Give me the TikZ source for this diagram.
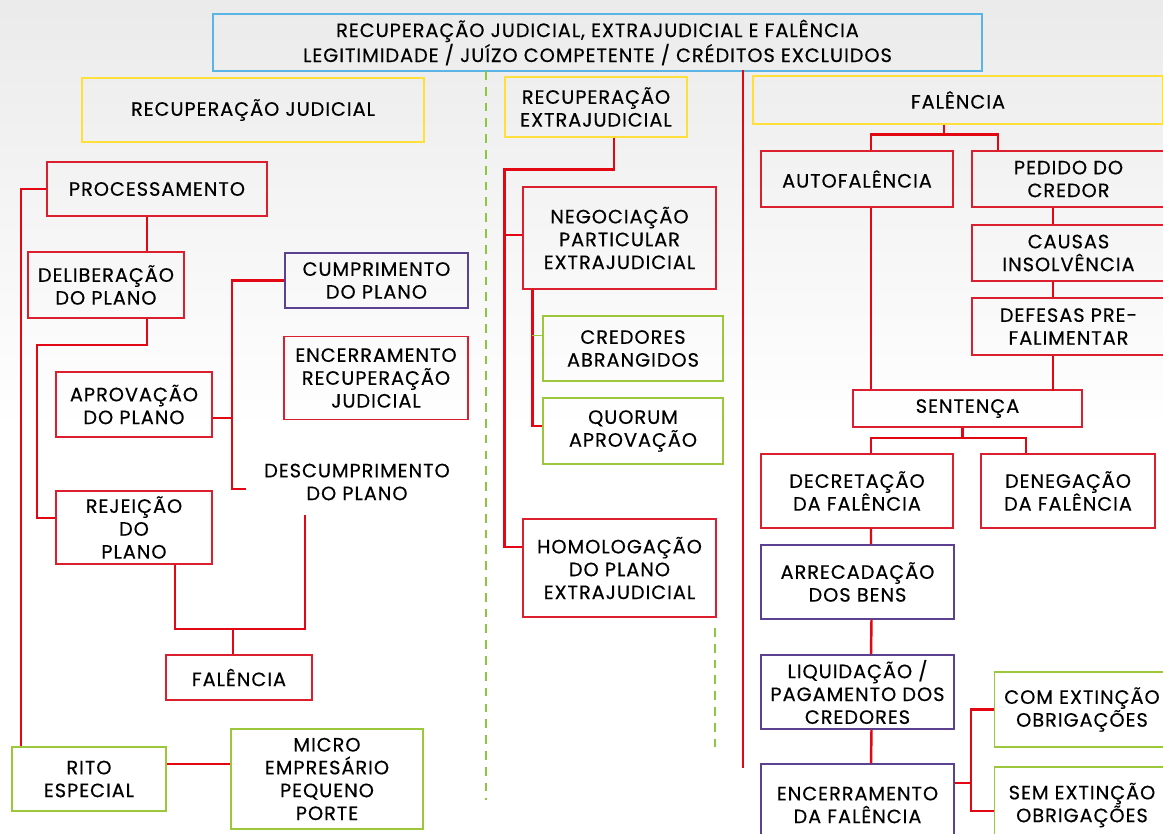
\documentclass[tikz,border=0pt]{standalone}
\usepackage{fontspec}
\setmainfont{Poppins}[LetterSpace=5, FakeBold=0.4]
\usepackage{tikz}
\usetikzlibrary{positioning, calc}
\definecolor{linkred}{HTML}{E30613}
\definecolor{boxred}{HTML}{DC1F2E}
\definecolor{boxpurple}{HTML}{5B4190}
\definecolor{boxgreen}{HTML}{9CC73B}
\definecolor{boxyellow}{HTML}{FFE03A}
\definecolor{boxblue}{HTML}{5AB4E5}
\definecolor{sepgreen}{HTML}{8DC63F}
\newcommand{\boxfont}{\fontsize{11}{13}\selectfont}
\tikzset{
  rbox/.style = {rectangle, draw=boxred, line width=0.85pt, align=center,
                 font=\boxfont, inner sep=2pt},
  pbox/.style = {rbox, draw=boxpurple},
  gbox/.style = {rbox, draw=boxgreen},
  ybox/.style = {rbox, draw=boxyellow, line width=0.75pt},
  tbox/.style = {rbox, draw=boxblue, line width=0.75pt},
  plain/.style = {rectangle, align=center, font=\boxfont, inner sep=2pt},
  link/.style = {draw=linkred, line width=1.4pt},
  twig/.style = {draw=boxgreen, line width=0.6pt},
  sep/.style  = {draw=sepgreen, line width=0.7pt, dash pattern=on 5pt off 4pt},
}
\begin{document}
\begin{tikzpicture}[x=0.02cm, y=-0.02cm]
  \useasboundingbox (0,0) rectangle (1163,834);
  \clip (0,0) rectangle (1163,834);
  \shade[top color=gray!16, bottom color=white] (0,0) rectangle (1163,430);

  % headers
  \node[tbox, minimum width=15.38cm, minimum height=1.14cm] (title) at (597.5,42.5)
       {RECUPERAÇÃO JUDICIAL, EXTRAJUDICIAL E FALÊNCIA\\LEGITIMIDADE / JUÍZO COMPETENTE / CRÉDITOS EXCLUIDOS};
  \node[ybox, minimum width=6.84cm, minimum height=1.28cm] (rj) at (253,110) {RECUPERAÇÃO JUDICIAL};
  \node[ybox, minimum width=3.64cm, minimum height=1.2cm] (re) at (596,107) {RECUPERAÇÃO\\EXTRAJUDICIAL};
  \node[ybox, minimum width=8.2cm, minimum height=0.96cm] (fal) at (958,100) {FALÊNCIA};

  % column separators
  \draw[sep] (486,71) -- (486,800);
  \draw[sep] (715,628) -- (715,752);
  \draw[link] (743,70) -- (743,768);

  % recuperacao judicial
  \node[rbox, minimum width=4.4cm, minimum height=1.08cm] (proc) at (157,189) {PROCESSAMENTO};
  \node[rbox, minimum width=3.12cm, minimum height=1.32cm] (delib) at (106,285) {DELIBERAÇÃO\\DO PLANO};
  \node[pbox, minimum width=3.66cm, minimum height=1.1cm] (cumpr) at (376.5,280.5) {CUMPRIMENTO\\DO PLANO};
  \node[rbox, minimum width=3.68cm, minimum height=1.66cm] (encrj) at (376,378) {ENCERRAMENTO\\RECUPERAÇÃO\\JUDICIAL};
  \node[rbox, minimum width=3.12cm, minimum height=1.3cm] (aprov) at (134,404.5) {APROVAÇÃO\\DO PLANO};
  \node[plain] (desc) at (357,482) {DESCUMPRIMENTO\\DO PLANO};
  \node[rbox, minimum width=3.12cm, minimum height=1.46cm] (rej) at (134,527.5) {REJEIÇÃO\\DO\\PLANO};
  \node[rbox, minimum width=2.92cm, minimum height=0.9cm] (fall) at (239,677.5) {FALÊNCIA};
  \node[gbox, minimum width=3.08cm, minimum height=1.28cm] (rito) at (89,779) {RITO\\ESPECIAL};
  \node[gbox, minimum width=3.84cm, minimum height=2.0cm] (micro) at (327,779) {MICRO\\EMPRESÁRIO\\PEQUENO\\PORTE};

  \draw[link] (proc.west) -| ($(rito.north west)+(10,0)$);
  \draw[link] ($(proc.south)+(-10,0)$) -- ($(delib.north)+(41,0)$);
  \draw[link] ($(delib.south)+(41,0)$) -- ++(0,26) -| ($(rej.west)+(-18,-9.5)$) -- ($(rej.west)+(0,-9.5)$);
  \coordinate (trunk) at (232,280.5);
  \draw[link] (cumpr.west) -- (trunk) |- ($(desc.west)+(-14,7)$);
  \draw[link] ($(aprov.east)+(0,13.5)$) -- ($(aprov.east)+(20,13.5)$);
  \coordinate (merge) at (233,629);
  \draw[link] ($(rej.south)+(41,0)$) |- (merge) -| ($(desc.south)+(-52,11)$);
  \draw[link] (merge) -- (merge |- fall.north);
  \draw[link] ($(rito.east)+(0,-15)$) -- ($(micro.west)+(0,-15)$);

  % recuperacao extrajudicial
  \node[rbox, minimum width=3.86cm, minimum height=2.04cm] (nego) at (619.5,238) {NEGOCIAÇÃO\\PARTICULAR\\EXTRAJUDICIAL};
  \node[gbox, minimum width=3.6cm, minimum height=1.3cm] (cred) at (633,348.5) {CREDORES\\ABRANGIDOS};
  \node[gbox, minimum width=3.6cm, minimum height=1.32cm] (quor) at (633,431) {QUORUM\\APROVAÇÃO};
  \node[rbox, minimum width=3.86cm, minimum height=1.96cm] (homo) at (619.5,568) {HOMOLOGAÇÃO\\DO PLANO\\EXTRAJUDICIAL};

  \draw[link] ($(re.south)+(18,0)$) -- ++(0,32) -| ($(homo.west)+(-18,-21)$) -- ($(homo.west)+(0,-21)$);
  \draw[link] ($(nego.west)+(-18,-3)$) -- ($(nego.west)+(0,-3)$);
  \draw[link] ($(nego.south west)+(10,0)$) |- ($(quor.west)+(0,-5)$);
  \draw[twig] ($(cred.west)+(-10,-13)$) -- ($(cred.west)+(0,-13)$);

  % falencia
  \node[rbox, minimum width=3.84cm, minimum height=1.12cm] (auto) at (857,179) {AUTOFALÊNCIA};
  \node[rbox, minimum width=3.86cm, minimum height=1.12cm] (ped) at (1068.5,179) {PEDIDO DO\\CREDOR};
  \node[rbox, minimum width=3.86cm, minimum height=1.12cm] (caus) at (1068.5,253) {CAUSAS\\INSOLVÊNCIA};
  \node[rbox, minimum width=3.86cm, minimum height=1.14cm] (def) at (1068.5,326.5) {DEFESAS PRE-\\FALIMENTAR};
  \node[rbox, minimum width=4.58cm, minimum height=0.74cm] (sent) at (967.5,408.5) {SENTENÇA};
  \node[rbox, minimum width=3.84cm, minimum height=1.48cm] (decr) at (857,491) {DECRETAÇÃO\\DA FALÊNCIA};
  \node[rbox, minimum width=3.48cm, minimum height=1.48cm] (dene) at (1068,491) {DENEGAÇÃO\\DA FALÊNCIA};
  \node[pbox, minimum width=3.86cm, minimum height=1.48cm] (arre) at (857.5,582) {ARRECADAÇÃO\\DOS BENS};
  \node[pbox, minimum width=3.86cm, minimum height=1.48cm] (liq) at (857.5,692) {LIQUIDAÇÃO /\\PAGAMENTO DOS\\CREDORES};
  \node[pbox, minimum width=3.86cm, minimum height=1.64cm] (encf) at (857.5,805) {ENCERRAMENTO\\DA FALÊNCIA};
  \node[gbox, minimum width=3.5cm, minimum height=1.5cm] (com) at (1082,709.5) {COM EXTINÇÃO\\OBRIGAÇÕES};
  \node[gbox, minimum width=3.5cm, minimum height=1.52cm] (sem) at (1082,805) {SEM EXTINÇÃO\\OBRIGAÇÕES};

  \draw[link] ($(fal.south)+(-14,0)$) -- ++(0,10) coordinate (fsplit);
  \draw[link] ($(auto.north)+(14,0)$) |- (fsplit) -| ($(ped.north)+(-70.5,0)$);
  \coordinate (autodown) at ($(auto.south)+(14,0)$);
  \draw[link] (autodown) -- (autodown |- sent.north);
  \foreach \a/\b in {ped/caus, caus/def}
    \draw[link] ($(\a.south)+(-15.5,0)$) -- ($(\b.north)+(-15.5,0)$);
  \draw[link] ($(def.south)+(-15.5,0)$) -- ++(0,35);
  \draw[link] ($(sent.south)+(-5,0)$) -- ++(0,10) coordinate (ssplit);
  \draw[link] ($(decr.north)+(14,0)$) |- (ssplit) -| ($(dene.north)+(-42,0)$);
  \foreach \a/\b in {decr/arre, arre/liq, liq/encf}
    \draw[link] ($(\a.south)+(14,0)$) -- ($(\b.north)+(13.5,0)$);
  \draw[link] ($(encf.east)+(0,-22)$) -- ++(16,0) coordinate (esplit);
  \draw[link] (com.west) -| (esplit) |- ($(sem.west)+(0,6)$);
\end{tikzpicture}
\end{document}
